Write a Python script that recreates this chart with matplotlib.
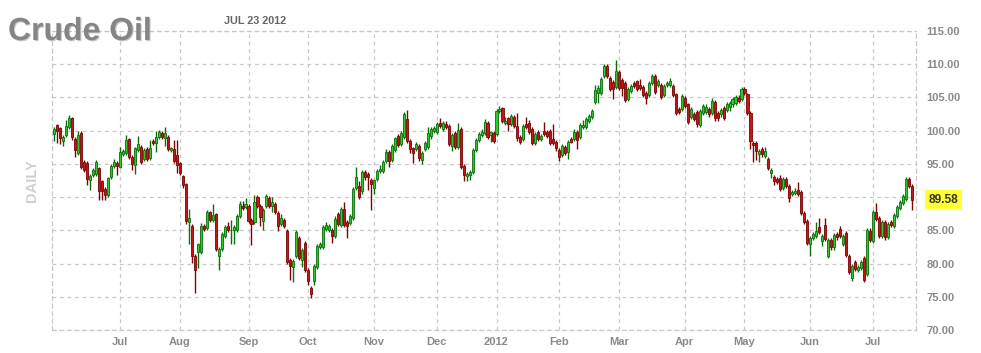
import numpy as np
import matplotlib
matplotlib.use("Agg")
import matplotlib.pyplot as plt
import matplotlib.patheffects as pe

# ---------------- data ----------------
opens = [99.45, 100.85, 100.45, 98.5, 99.35, 100.5, 101.85, 98.7, 96.7, 99.7,
         95.35, 95.2, 92.5, 93.35, 93.5, 94.35, 92.35, 91.2, 90.35, 93.1,
         94.7, 95.2, 94.6, 96.5, 96.7, 98.7, 96.0, 94.85, 97.1, 97.6,
         95.7, 97.2, 95.85, 98.5, 98.1, 99.0, 99.7, 98.95, 99.1, 97.1,
         97.2, 96.3, 95.1, 93.2, 91.9, 86.2, 85.7, 81.1, 81.7, 81.7,
         85.6, 85.4, 87.7, 86.6, 87.4, 81.1, 82.2, 84.2, 85.7, 85.0,
         85.0, 85.1, 87.2, 88.6, 88.5, 88.7, 86.6, 86.2, 90.0, 88.7,
         86.4, 88.6, 89.9, 88.7, 88.9, 87.6, 85.9, 86.5, 84.9, 80.5,
         79.5, 81.1, 83.9, 80.5, 83.1, 79.0, 76.3, 77.3, 79.5, 82.5,
         82.5, 85.2, 85.0, 85.0, 84.2, 87.5, 85.85, 88.2, 86.2, 86.1,
         86.85, 91.35, 91.6, 90.85, 93.85, 93.5, 92.6, 91.35, 92.7, 94.0,
         93.9, 95.5, 96.85, 95.6, 97.1, 99.2, 98.0, 99.1, 101.7, 98.5,
         97.35, 97.2, 97.7, 95.6, 97.2, 97.5, 99.2, 100.0, 99.85, 101.1,
         100.2, 101.0, 100.7, 97.7, 99.6, 97.5, 100.2, 94.7, 93.2, 93.35,
         93.85, 97.1, 98.6, 99.4, 99.6, 101.2, 99.4, 99.7, 99.5, 103.0,
         103.35, 101.1, 101.85, 101.0, 102.1, 100.7, 99.1, 98.7, 101.0, 101.1,
         100.2, 98.1, 99.85, 98.8, 100.0, 99.85, 100.0, 98.7, 98.35, 97.1,
         96.35, 97.6, 96.85, 98.7, 98.7, 99.85, 99.0, 100.5, 100.5, 101.5,
         102.1, 104.35, 105.7, 105.7, 108.3, 109.7, 108.0, 107.3, 106.6, 108.8,
         107.6, 107.2, 104.7, 106.0, 107.2, 107.45, 106.8, 106.6, 105.7, 105.3,
         107.1, 108.2, 106.8, 106.8, 105.3, 106.8, 106.8, 106.7, 105.45, 103.3,
         103.2, 104.95, 103.95, 102.0, 102.5, 102.8, 100.85, 102.6, 102.8, 103.2,
         102.7, 104.3, 102.7, 102.45, 103.45, 103.1, 103.6, 103.95, 104.1, 104.95,
         104.7, 106.3, 105.45, 102.7, 98.1, 98.1, 96.45, 97.2, 96.2, 95.8,
         93.7, 93.1, 92.8, 92.95, 91.3, 92.8, 91.6, 90.45, 90.6, 91.1,
         90.8, 87.6, 86.45, 82.95, 83.8, 84.2, 85.45, 83.45, 85.8, 81.1,
         83.6, 82.45, 84.45, 85.2, 82.95, 84.6, 81.2, 77.8, 80.3, 79.1,
         79.3, 80.8, 78.45, 84.95, 83.45, 87.8, 86.8, 84.2, 86.2, 84.0,
         86.3, 85.7, 87.2, 88.3, 89.1, 89.7, 92.7, 91.6]

highs = [100.6, 101.0, 100.6, 99.4, 101.6, 102.35, 102.0, 99.0, 99.9, 100.0,
         95.6, 95.4, 93.5, 94.4, 95.6, 94.6, 92.6, 91.5, 93.0, 95.0,
         95.7, 95.4, 97.6, 97.3, 99.35, 98.9, 96.3, 97.6, 99.2, 97.8,
         97.4, 97.5, 98.6, 98.8, 100.0, 100.1, 100.0, 100.6, 99.3, 97.6,
         98.6, 98.6, 95.3, 93.4, 92.1, 88.2, 86.0, 81.4, 83.1, 86.1,
         85.9, 88.0, 87.9, 88.9, 87.6, 82.5, 84.7, 85.8, 86.3, 86.6,
         85.8, 87.5, 89.4, 89.4, 89.9, 88.9, 86.9, 90.3, 90.3, 89.0,
         88.4, 90.4, 90.2, 90.0, 89.2, 87.9, 87.5, 86.8, 85.2, 80.8,
         80.7, 85.0, 84.2, 82.4, 83.4, 79.3, 76.6, 80.0, 82.9, 83.3,
         85.85, 86.2, 85.9, 85.3, 87.2, 87.8, 88.5, 89.3, 86.5, 87.5,
         91.5, 94.5, 92.4, 94.1, 94.1, 93.8, 92.9, 92.8, 94.3, 94.8,
         95.6, 97.2, 97.1, 98.0, 99.1, 99.5, 100.0, 102.8, 103.1, 98.8,
         97.6, 98.3, 98.0, 97.0, 98.5, 100.6, 100.5, 100.7, 101.3, 101.9,
         101.5, 101.4, 101.0, 99.7, 99.9, 101.1, 100.5, 95.0, 93.8, 94.1,
         97.4, 98.9, 99.8, 100.2, 101.7, 101.5, 100.0, 100.0, 103.3, 103.7,
         103.6, 102.1, 102.1, 102.5, 102.4, 102.6, 99.4, 101.0, 102.1, 101.6,
         100.5, 99.8, 100.1, 99.5, 101.3, 100.1, 100.3, 101.0, 98.6, 97.4,
         98.0, 97.9, 98.6, 99.0, 100.2, 100.1, 101.1, 101.6, 102.0, 102.5,
         103.3, 106.8, 106.8, 108.1, 110.1, 110.0, 108.3, 107.6, 110.6, 109.1,
         107.9, 107.5, 106.6, 107.0, 107.5, 107.7, 107.8, 106.9, 106.0, 107.5,
         108.5, 108.5, 107.8, 107.1, 107.0, 107.5, 107.9, 107.0, 105.7, 103.6,
         105.5, 105.2, 104.2, 103.5, 102.8, 103.1, 103.2, 104.0, 104.0, 103.5,
         104.9, 104.6, 103.0, 103.4, 103.7, 104.3, 104.5, 105.1, 105.4, 105.3,
         106.6, 106.6, 105.7, 103.0, 98.4, 98.4, 97.3, 97.5, 97.5, 96.1,
         94.4, 93.4, 93.1, 93.3, 93.0, 93.1, 91.9, 91.1, 91.3, 92.2,
         91.1, 87.9, 86.7, 84.1, 84.8, 86.2, 86.8, 84.5, 86.9, 83.9,
         83.9, 84.6, 84.8, 85.7, 84.5, 84.9, 81.5, 80.0, 80.6, 79.8,
         80.6, 81.1, 85.4, 85.3, 88.1, 89.1, 87.1, 86.6, 86.5, 86.3,
         86.6, 87.6, 88.8, 89.6, 90.5, 93.1, 93.0, 91.9]

lows = [98.4, 98.1, 98.0, 97.7, 99.1, 100.3, 98.6, 96.0, 96.3, 94.2,
        93.8, 91.8, 91.0, 93.0, 93.2, 89.6, 89.6, 89.5, 90.0, 92.8,
        94.4, 93.3, 94.4, 96.2, 96.4, 95.8, 94.1, 93.5, 96.8, 95.0,
        95.4, 95.4, 95.6, 97.8, 96.85, 98.8, 98.8, 97.7, 97.0, 96.8,
        95.1, 93.6, 93.3, 91.4, 86.0, 82.9, 80.1, 75.6, 79.4, 81.4,
        84.9, 85.1, 86.2, 86.3, 81.9, 79.0, 81.9, 83.9, 84.7, 83.0,
        82.9, 84.8, 86.9, 88.1, 88.2, 86.1, 82.8, 85.9, 88.4, 85.6,
        85.1, 88.3, 88.3, 87.8, 87.4, 84.9, 85.6, 85.3, 79.9, 77.6,
        77.2, 80.8, 80.6, 79.5, 78.7, 76.8, 74.85, 76.7, 79.2, 82.2,
        82.2, 84.9, 84.7, 83.1, 83.9, 85.7, 85.5, 85.5, 83.8, 85.8,
        86.5, 91.0, 89.7, 90.5, 92.6, 91.1, 88.1, 90.5, 92.4, 93.7,
        93.6, 95.2, 94.5, 95.3, 96.8, 97.5, 97.7, 98.8, 98.2, 96.6,
        95.2, 96.9, 95.5, 95.0, 96.9, 97.2, 98.7, 99.7, 99.5, 100.4,
        99.9, 100.3, 97.7, 97.0, 97.2, 97.2, 94.3, 92.35, 92.4, 92.6,
        93.5, 96.8, 98.3, 99.1, 99.3, 98.8, 98.3, 98.2, 99.2, 102.7,
        101.2, 100.8, 99.9, 100.7, 100.4, 98.5, 98.0, 98.4, 100.3, 99.5,
        97.8, 97.8, 98.4, 98.5, 99.2, 98.9, 97.9, 97.9, 97.0, 95.4,
        96.1, 96.3, 95.7, 98.1, 98.4, 97.2, 98.7, 100.2, 100.2, 101.2,
        101.8, 104.0, 104.2, 105.4, 108.0, 107.9, 106.0, 104.8, 106.3, 106.1,
        105.2, 104.3, 104.4, 105.7, 106.4, 105.9, 106.1, 105.0, 104.0, 105.0,
        106.8, 105.5, 106.5, 104.8, 105.0, 106.5, 106.5, 105.0, 102.4, 102.5,
        102.9, 103.4, 101.0, 101.7, 101.4, 100.6, 100.5, 102.3, 102.5, 102.1,
        102.4, 101.5, 101.5, 102.1, 101.6, 102.8, 102.9, 103.6, 103.8, 104.1,
        104.4, 105.4, 102.4, 97.2, 95.3, 95.6, 95.3, 96.1, 95.9, 94.1,
        92.85, 91.8, 92.0, 90.9, 91.0, 91.4, 89.3, 90.1, 90.3, 90.1,
        87.3, 86.0, 82.8, 81.2, 83.5, 83.9, 84.5, 82.7, 83.4, 80.8,
        82.1, 82.1, 83.6, 83.9, 82.6, 81.0, 78.5, 77.4, 78.9, 78.8,
        79.0, 77.15, 78.2, 83.3, 83.1, 86.4, 83.9, 83.9, 83.6, 83.7,
        85.5, 85.4, 86.9, 88.0, 88.8, 89.4, 91.4, 88.0]

closes = [100.2, 99.95, 98.85, 99.1, 100.7, 101.85, 99.0, 97.1, 99.3, 94.5,
          94.1, 92.7, 93.2, 94.1, 95.3, 90.85, 90.85, 90.35, 92.85, 94.7,
          95.35, 94.7, 96.85, 97.0, 98.6, 96.0, 95.0, 97.35, 98.0, 95.35,
          97.1, 95.7, 97.35, 98.1, 99.0, 99.85, 99.1, 99.6, 97.3, 97.4,
          95.4, 94.8, 93.7, 91.8, 86.4, 86.9, 81.1, 79.0, 82.9, 85.7,
          85.2, 87.7, 86.5, 87.3, 82.2, 82.2, 84.4, 85.5, 85.0, 85.1,
          85.5, 87.2, 88.9, 88.4, 88.9, 86.4, 85.9, 89.2, 88.7, 87.0,
          88.1, 90.1, 88.6, 89.2, 87.7, 85.6, 86.9, 85.6, 80.2, 79.6,
          80.4, 84.7, 80.9, 82.1, 79.0, 77.3, 75.4, 79.7, 82.6, 83.0,
          85.5, 85.85, 85.6, 84.1, 86.7, 86.0, 88.2, 85.85, 85.7, 87.2,
          91.2, 93.0, 90.0, 93.85, 93.0, 93.0, 92.0, 92.5, 94.0, 94.2,
          95.35, 96.85, 95.5, 97.7, 98.85, 97.85, 99.7, 102.5, 98.5, 97.2,
          96.6, 98.0, 95.85, 96.7, 98.2, 99.7, 100.2, 100.35, 101.0, 100.7,
          101.2, 100.6, 98.0, 99.35, 97.5, 100.1, 94.6, 93.35, 93.5, 93.85,
          97.1, 98.6, 99.5, 99.85, 101.35, 99.1, 99.75, 98.5, 103.0, 103.25,
          101.5, 101.5, 101.0, 102.2, 100.7, 98.85, 98.35, 100.7, 100.6, 99.85,
          98.1, 99.5, 98.7, 99.2, 99.5, 99.2, 98.2, 98.2, 97.35, 96.1,
          97.7, 96.6, 98.35, 98.35, 99.85, 98.6, 100.85, 100.85, 101.7, 102.2,
          103.0, 106.1, 106.45, 107.8, 109.8, 108.2, 106.3, 106.3, 109.0, 106.45,
          106.45, 104.6, 106.3, 106.7, 106.7, 106.2, 106.45, 105.3, 104.95, 107.2,
          108.2, 105.8, 107.45, 105.1, 106.7, 107.2, 107.45, 105.3, 102.7, 102.8,
          105.2, 103.7, 101.3, 103.2, 101.75, 100.95, 102.95, 103.7, 103.6, 102.45,
          104.45, 101.85, 101.85, 103.1, 101.95, 103.95, 104.2, 104.8, 105.1, 104.45,
          106.3, 105.7, 102.7, 98.45, 97.8, 96.95, 96.95, 96.45, 96.95, 94.45,
          94.1, 92.45, 92.3, 91.2, 92.7, 91.7, 89.8, 90.8, 90.95, 90.45,
          87.6, 86.3, 83.1, 83.8, 84.45, 84.95, 84.8, 84.2, 83.7, 83.6,
          82.45, 84.3, 83.95, 84.2, 84.2, 81.3, 78.8, 79.7, 79.2, 79.45,
          80.3, 77.45, 85.1, 83.6, 87.8, 86.7, 84.2, 86.3, 83.95, 85.95,
          85.8, 87.3, 88.45, 89.3, 90.2, 92.8, 91.7, 89.58]

# first trading-day index of each month and their labels
month_idx = [22, 42, 65, 85, 107, 128, 148, 169, 189, 211, 231, 253, 274]
month_labels = ["Jul", "Aug", "Sep", "Oct", "Nov", "Dec", "2012",
                "Feb", "Mar", "Apr", "May", "Jun", "Jul"]
y_ticks = [70, 75, 80, 85, 90, 95, 100, 105, 110, 115]
last_price = 89.58
title = "Crude Oil"
date_text = "JUL 23 2012"
period_text = "DAILY"

# ---------------- drawing ----------------
plt.rcParams['font.family'] = ['Liberation Sans', 'DejaVu Sans']

W, H = 981, 353
fig = plt.figure(figsize=(W / 100, H / 100), dpi=100)
fig.patch.set_facecolor('white')
ax = fig.add_axes([52 / W, 23 / H, 864 / W, 299 / H])

o = np.array(opens); h = np.array(highs); l = np.array(lows); c = np.array(closes)
x = np.arange(len(o))
up = c >= o

GREEN_FILL, GREEN_EDGE = '#2fc82f', '#0b6e0b'
RED_FILL, RED_EDGE = '#c41616', '#7a0505'

body_lo = np.minimum(o, c)
body_hi = np.maximum(o, c)
wick_lo = np.minimum(l, body_lo)
wick_hi = np.maximum(h, body_hi)

ax.vlines(x[up], wick_lo[up], wick_hi[up], colors=GREEN_EDGE, lw=1.0, zorder=3)
ax.vlines(x[~up], wick_lo[~up], wick_hi[~up], colors=RED_EDGE, lw=1.0, zorder=3)
ax.bar(x[up], (body_hi - body_lo)[up], bottom=body_lo[up], width=0.7,
       color=GREEN_FILL, edgecolor=GREEN_EDGE, linewidth=0.6, zorder=4)
ax.bar(x[~up], (body_hi - body_lo)[~up], bottom=body_lo[~up], width=0.7,
       color=RED_FILL, edgecolor=RED_EDGE, linewidth=0.6, zorder=4)

ax.set_xlim(-0.77, 288.4)
ax.set_ylim(70, 115)

grid_kw = dict(color='#c8c8c8', linestyle=(0, (3, 3)), linewidth=0.9)
ax.set_xticks(month_idx)
ax.set_xticklabels(month_labels)
ax.set_yticks(y_ticks)
ax.set_yticklabels(['' if v == 90 else f'{v:.2f}' for v in y_ticks])
ax.grid(True, **grid_kw)
ax.set_axisbelow(True)
for s in ax.spines.values():
    s.set_color('#c8c8c8')
    s.set_linestyle((0, (3, 3)))
    s.set_linewidth(0.9)

ax.yaxis.tick_right()
ax.tick_params(axis='both', length=0, colors='#8a8a8a', labelsize=8)
ax.tick_params(axis='y', pad=7.5)
ax.tick_params(axis='x', pad=5)
for lab in ax.get_xticklabels() + ax.get_yticklabels():
    lab.set_fontweight('bold')
    lab.set_color('#8a8a8a')

# last price label
ax.annotate(f'{last_price:.2f}', xy=(1.0, last_price), xycoords=('axes fraction', 'data'),
            xytext=(9, 0), textcoords='offset points', ha='left', va='center',
            fontsize=8.6, fontweight='bold', color='#333333',
            bbox=dict(boxstyle='square,pad=0.3', facecolor='#ffff33', edgecolor='none'))

# title with a subtle shadow
fig.text(8 / W, 1 - 40 / H, title, fontsize=23, fontweight='bold', color='#858585',
         ha='left', va='baseline',
         path_effects=[pe.withSimplePatchShadow(offset=(0.8, -0.8), shadow_rgbFace='#5a6a80', alpha=0.35)])
fig.text(224 / W, 1 - 24 / H, date_text, fontsize=7.8, fontweight='bold', color='#666666',
         ha='left', va='baseline')
fig.text(32 / W, 1 - 181 / H, period_text, fontsize=10.5, fontweight='bold', color='#d0d0d0',
         ha='center', va='center', rotation=90)

fig.savefig('out.png', dpi=100, facecolor='white')
